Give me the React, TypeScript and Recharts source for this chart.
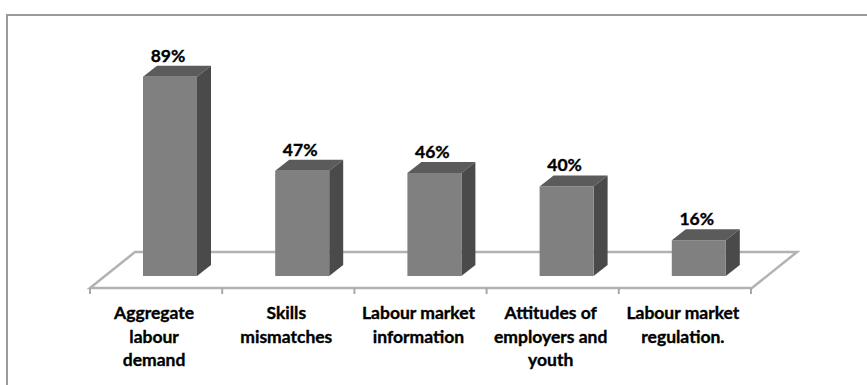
import React from 'react';
import { BarChart, Bar, XAxis, YAxis, ReferenceLine, LabelList } from 'recharts';

const categories = [
  'Aggregate labour demand',
  'Skills mismatches',
  'Labour market information',
  'Attitudes of employers and youth',
  'Labour market regulation.',
];
const shares = [89, 47, 46, 40, 16];
// line breaks as in the original axis labels
const tickLines = [
  ['Aggregate', 'labour', 'demand'],
  ['Skills', 'mismatches'],
  ['Labour market', 'information'],
  ['Attitudes of', 'employers and', 'youth'],
  ['Labour market', 'regulation.'],
];

const data = categories.map((name, i) => ({ name, value: shares[i] }));

const W = 867;
const H = 385;
const MARGIN = { top: 52, right: 102, bottom: 0, left: 104 };
const AXIS_H = 109;
const BAND = (W - MARGIN.left - MARGIN.right) / categories.length;

// 3D offsets
const DX = 14;
const DY = 11;
const FONT = 'Lato, "Open Sans", sans-serif';

const Bar3D = (props: any) => {
  const { x, y, width, height } = props;
  if (height <= 0) return null;
  return (
    <g>
      <polygon
        points={`${x},${y} ${x + width},${y} ${x + width + DX},${y - DY} ${x + DX},${y - DY}`}
        fill="#5b5b5b"
      />
      <polygon
        points={`${x + width},${y} ${x + width + DX},${y - DY} ${x + width + DX},${y + height - DY} ${x + width},${y + height}`}
        fill="#4a4a4a"
      />
      <rect x={x} y={y} width={width} height={height} fill="#808080" />
    </g>
  );
};

// floor plate drawn from the zero line of the value axis
const Floor = (props: any) => {
  const { x1, x2, y1 } = props;
  const fy = y1 + 12;
  const by = y1 - 24;
  const fl = x1 - 14;
  const fr = x2 - 13;
  const pts = `${fl},${fy} ${fr},${fy} ${fr + 45},${by} ${fl + 45},${by}`;
  return <polygon points={pts} fill="none" stroke="#b2b2b2" strokeWidth={2.5} />;
};

const CategoryTick = (props: any) => {
  const { x, y, index } = props;
  const left = x - BAND / 2 - 14;
  const lines = tickLines[index] || [];
  return (
    <g>
      <line x1={left} y1={y + 12} x2={left} y2={y + 18} stroke="#a8a8a8" strokeWidth={2} />
      {index === categories.length - 1 && (
        <line x1={left + BAND} y1={y + 12} x2={left + BAND} y2={y + 18} stroke="#a8a8a8" strokeWidth={2} />
      )}
      <text
        textAnchor="middle"
        fontFamily={FONT}
        fontWeight={700}
        fontSize={17.5}
        fill="#000"
        stroke="#000"
        strokeWidth={0.35}
      >
        {lines.map((l, i) => (
          <tspan key={i} x={x - 16} y={y + 43 + i * 23.5}>
            {l}
          </tspan>
        ))}
      </text>
    </g>
  );
};

const ValueLabel = (props: any) => {
  const { x, y, width, value } = props;
  return (
    <text
      x={x + width / 2 - 2}
      y={y - 15}
      textAnchor="middle"
      fontFamily={FONT}
      fontWeight={700}
      fontSize={17.5}
      fill="#000"
      stroke="#000"
      strokeWidth={0.35}
    >
      {`${value}%`}
    </text>
  );
};

export default function App() {
  return (
    <div style={{ position: 'fixed', top: 0, left: 0, width: W, height: H, background: '#fff' }}>
      <div
        style={{
          position: 'absolute',
          top: 14,
          left: 6,
          width: W,
          height: H,
          borderTop: '2px solid #9a9a9a',
          borderLeft: '2px solid #9a9a9a',
        }}
      />
      <div style={{ position: 'absolute', top: 0, left: 0 }}>
        <BarChart width={W} height={H} data={data} margin={MARGIN}>
          <XAxis
            dataKey="name"
            height={AXIS_H}
            axisLine={false}
            tickLine={false}
            tickSize={0}
            tickMargin={0}
            interval={0}
            tick={<CategoryTick />}
          />
          <YAxis hide width={0} domain={[0, 100]} />
          <ReferenceLine y={0} shape={<Floor />} zIndex={-10} />
          <Bar dataKey="value" barSize={54} shape={<Bar3D />} isAnimationActive={false}>
            <LabelList dataKey="value" content={<ValueLabel />} />
          </Bar>
        </BarChart>
      </div>
    </div>
  );
}
